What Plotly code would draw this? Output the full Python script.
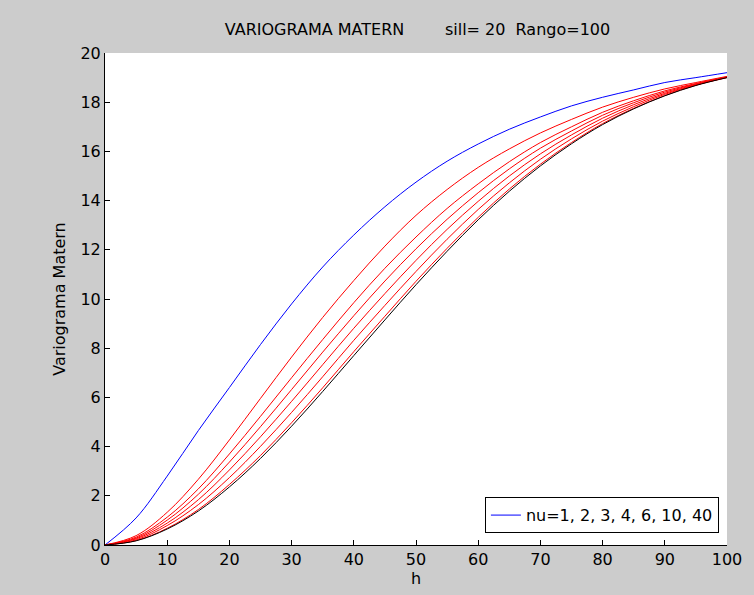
import plotly.graph_objects as go

h = [0, 5, 10, 15, 20, 25, 30, 35, 40, 45, 50, 55, 60, 65, 70, 75, 80, 85, 90, 95, 100]

nu1 = [0, 1.1, 2.8, 4.65, 6.4, 8.15, 9.8, 11.3, 12.6, 13.75, 14.75, 15.6, 16.3, 16.9, 17.4, 17.85, 18.2, 18.5, 18.8, 19.0, 19.2]
nu2 = [0, 0.38, 1.33, 2.67, 4.27, 5.96, 7.64, 9.25, 10.75, 12.15, 13.4, 14.45, 15.35, 16.1, 16.75, 17.3, 17.8, 18.2, 18.54, 18.8, 19.05]
nu3 = [0, 0.32, 1.13, 2.28, 3.70, 5.23, 6.80, 8.35, 9.85, 11.25, 12.52, 13.68, 14.68, 15.58, 16.36, 17.0, 17.59, 18.06, 18.46, 18.76, 19.03]
nu4 = [0, 0.28, 1.01, 2.06, 3.37, 4.81, 6.32, 7.84, 9.32, 10.73, 12.04, 13.24, 14.32, 15.29, 16.13, 16.83, 17.47, 17.98, 18.41, 18.74, 19.02]
nu6 = [0, 0.25, 0.89, 1.84, 3.05, 4.40, 5.84, 7.33, 8.81, 10.22, 11.57, 12.83, 13.97, 15.0, 15.90, 16.67, 17.35, 17.90, 18.36, 18.72, 19.01]
nu10 = [0, 0.21, 0.79, 1.64, 2.74, 4.01, 5.39, 6.84, 8.32, 9.74, 11.12, 12.43, 13.64, 14.72, 15.68, 16.51, 17.23, 17.82, 18.32, 18.70, 19.01]
nu40 = [0, 0.18, 0.68, 1.44, 2.46, 3.64, 4.97, 6.39, 7.86, 9.30, 10.72, 12.06, 13.32, 14.47, 15.48, 16.36, 17.13, 17.75, 18.27, 18.69, 19.0]
gauss = [0, 0.17, 0.65, 1.38, 2.36, 3.52, 4.83, 6.24, 7.70, 9.15, 10.58, 11.94, 13.22, 14.38, 15.41, 16.31, 17.09, 17.73, 18.26, 18.68, 19.0]

red_series = [nu2, nu3, nu4, nu6, nu10, nu40]

FONT = "DejaVu Sans"
FS = 16

fig = go.Figure()
fig.add_trace(go.Scatter(x=h, y=nu1, mode="lines", name="nu=1, 2, 3, 4, 6, 10, 40",
                         line=dict(color="#0000ff", width=1, shape="spline"), showlegend=True))
for s in red_series:
    fig.add_trace(go.Scatter(x=h, y=s, mode="lines", showlegend=False,
                             line=dict(color="#ff0000", width=1, shape="spline")))
fig.add_trace(go.Scatter(x=h, y=gauss, mode="lines", showlegend=False,
                         line=dict(color="#000000", width=1, shape="spline")))

axis_common = dict(showgrid=False, zeroline=False, showline=True, linecolor="black", linewidth=1,
                   ticks="inside", ticklen=5, tickcolor="black", tickwidth=1, mirror=False,
                   tickfont=dict(family=FONT, size=FS, color="black"))

fig.update_layout(
    width=754, height=595,
    margin=dict(l=105, r=24, t=53, b=50),
    paper_bgcolor="#cccccc", plot_bgcolor="white",
    title=dict(text="VARIOGRAMA MATERN&nbsp;&nbsp;&nbsp;&nbsp;&nbsp;&nbsp;&nbsp;&nbsp;sill= 20&nbsp;&nbsp;Rango=100",
               x=(105 + 730) / 2 / 754, xanchor="center", y=1 - 29 / 595, yanchor="middle",
               font=dict(family=FONT, size=FS, color="black")),
    xaxis=dict(range=[0, 100], tickvals=list(range(0, 101, 10)),
               title=dict(text="h", font=dict(family=FONT, size=FS, color="black"), standoff=2),
               **axis_common),
    yaxis=dict(range=[0, 20], tickvals=list(range(0, 21, 2)),
               title=dict(text="Variograma Matern", font=dict(family=FONT, size=FS, color="black"), standoff=10),
               **axis_common),
    legend=dict(x=0.987, y=0.024, xanchor="right", yanchor="bottom",
                bgcolor="white", bordercolor="black", borderwidth=1,
                font=dict(family=FONT, size=FS, color="black")),
    showlegend=True,
)

fig.write_html("out.html")
